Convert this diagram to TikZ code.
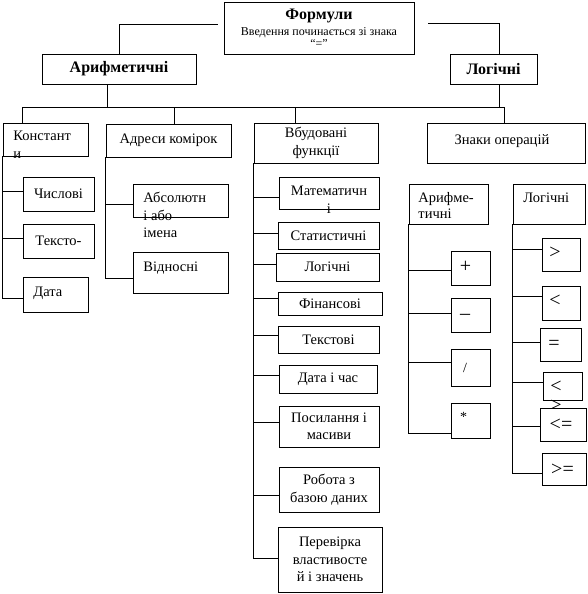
\documentclass[tikz,border=0pt]{standalone}
\usepackage{fontspec}
\setmainfont{Liberation Serif}

\tikzset{
  box/.style={draw, fill=white, inner sep=0pt, align=center, font=\fontsize{14.5}{17.5}\selectfont},
  sz/.style 2 args={minimum width=#1, minimum height=#2},
  hbox/.style={box, font=\fontsize{16}{18}\selectfont\bfseries},
  txt/.style={inner sep=0pt, align=left, font=\fontsize{14.5}{17.5}\selectfont},
  sign/.style={inner sep=0pt, font=\fontsize{20}{20}\selectfont},
  smallsign/.style={inner sep=0pt, font=\fontsize{14}{14}\selectfont},
}

\begin{document}
\begin{tikzpicture}[x=1pt, y=-1pt, line width=0.9pt]
\useasboundingbox (0,0) rectangle (587,594);

% top
\node[box, sz={190}{52}, font=\fontsize{12}{16}\selectfont] (form) at (319,28)
  {{\fontsize{16}{18}\selectfont\bfseries Формули}\\ Введення починається зі знака\\[-4pt] “=”};
\node[hbox, sz={154}{30}] (arith) at (119,69) {Арифметичні};
\node[hbox, sz={87}{30}] (logic) at (493.5,69) {Логічні};

% second row
\node[box, sz={85}{33}] (konst) at (45.5,139.5) {};
\node[txt, anchor=north west] (konst-t) at (13,131) {Констант\\и};
\node[box, sz={125}{33}] (addr) at (168.5,140.5) {Адреси комірок};
\node[box, sz={124}{40}] (func) at (316,143) {Вбудовані\\функції};
\node[box, sz={158}{40}] (ops) at (506,143) {};
\node[txt, anchor=north] (ops-t) at (502,134) {Знаки операцій};

% constants
\node[box, sz={71}{34}] (num) at (58.5,194) {Числові};
\node[box, sz={71}{34}] (textc) at (58.5,241) {Тексто-};
\node[box, sz={65}{35}] (date) at (55.5,294.5) {};
\node[txt, anchor=west] (date-t) at (33,293) {Дата};

% addresses
\node[box, sz={95}{33}] (abs) at (180.5,200.5) {};
\node[txt, anchor=north west] (abs-t) at (143,192) {Абсолютн\\і або\\імена};
\node[box, sz={95}{41}] (rel) at (180.5,272.5) {};
\node[txt, anchor=north west] (rel-t) at (143,261) {Відносні};

% functions
\node[box, sz={100}{32}] (mat) at (329,193) {};
\node[txt, align=center, anchor=north] (mat-t) at (329,186) {Математичн\\і};
\node[box, sz={101}{27}] (stat) at (328.5,235.5) {Статистичні};
\node[box, sz={103}{28}] (logf) at (327.5,267) {Логічні};
\node[box, sz={104}{23}] (fin) at (330,303.5) {Фінансові};
\node[box, sz={101}{27}] (txtf) at (328.5,339.5) {Текстові};
\node[box, sz={98}{28}] (dt) at (328,379) {Дата і час};
\node[box, sz={100}{41}] (ref) at (329,426.5) {Посилання і\\масиви};
\node[box, sz={100}{45}] (db) at (329,489.5) {Робота з\\базою даних};
\node[box, sz={104}{65}] (chk) at (330,559.5) {Перевірка\\властивосте\\й і значень};

% operators
\node[box, sz={79}{40}] (aop) at (448.5,204) {};
\node[txt, anchor=north west] (aop-t) at (418,192) {Арифме-\\[-1.5pt]тичні};
\node[box, sz={72}{40}] (lop) at (549,204) {};
\node[txt, anchor=north west] (lop-t) at (523,192) {Логічні};

\node[box, sz={39}{34}] (plus) at (470.5,268) {};
\node[sign] (plus-t) at (465.5,267) {+};
\node[box, sz={39}{34}] (minus) at (470.5,315) {};
\node[sign] (minus-t) at (465,317) {–};
\node[box, sz={39}{37}] (divd) at (470.5,367.5) {};
\node[smallsign] (divd-t) at (465,368) {/};
\node[box, sz={39}{35}] (mult) at (470.5,420.5) {};
\node[smallsign] (mult-t) at (463.5,417) {*};

\node[box, sz={38}{33}] (gt) at (561,254.5) {};
\node[sign] (gt-t) at (555,253) {>};
\node[box, sz={38}{34}] (lt) at (561,303) {};
\node[sign] (lt-t) at (555,300.5) {<};
\node[box, sz={41}{33}] (eq) at (560.5,344.5) {};
\node[sign] (eq-t) at (554,344.5) {=};
\node[box, sz={39}{28}] (neq) at (562.5,386) {};
\node[sign, align=left, font=\fontsize{20}{19}\selectfont, anchor=north west] (neq-t) at (550,381) {<\\>};
\node[box, sz={46}{33}] (le) at (563,424.5) {};
\node[sign] (le-t) at (561,424.5) {<=};
\node[box, sz={44}{32}] (ge) at (564,469) {};
\node[sign] (ge-t) at (562.5,469.5) {>=};

% connectors
\draw ([shift={(-6,-4)}]form.west) -| (arith.north);
\draw ([shift={(14,-5)}]form.east) -| ([shift={(5.5,0)}]logic.north);
\coordinate (bar) at (22,107);
\draw ([shift={(-12,0)}]arith.south) |- (bar);
\draw ([shift={(5.5,0)}]logic.south) |- (bar);
\draw ([shift={(-23.5,0)}]konst.north) |- (bar);
\draw ([shift={(5.5,0)}]addr.north) |- (bar);
\draw ([shift={(-21,0)}]func.north) |- (bar);
\draw ([shift={(-2,0)}]ops.north) |- (bar);

\foreach \c/\d in {num/-3, textc/-3, date/3.5}
  \draw (konst.south west) |- ([shift={(0,\d)}]\c.west);
\foreach \c/\d in {abs/3.5, rel/5.5}
  \draw (addr.south west) |- ([shift={(0,\d)}]\c.west);
\foreach \c/\d in {mat/4, stat/-2.5, logf/-3, fin/-5.5, txtf/-4.5, dt/-4, ref/-4.5, db/5.5, chk/-1.5}
  \draw (func.south west) |- ([shift={(0,\d)}]\c.west);
\foreach \c/\d in {plus/2, minus/-2, divd/-5.5, mult/12.5}
  \draw (aop.south west) |- ([shift={(0,\d)}]\c.west);
\foreach \c/\d in {gt/-5.5, lt/-7, eq/-2.5, neq/-4, le/1.5, ge/4}
  \draw (lop.south west) |- ([shift={(0,\d)}]\c.west);
\end{tikzpicture}
\end{document}
